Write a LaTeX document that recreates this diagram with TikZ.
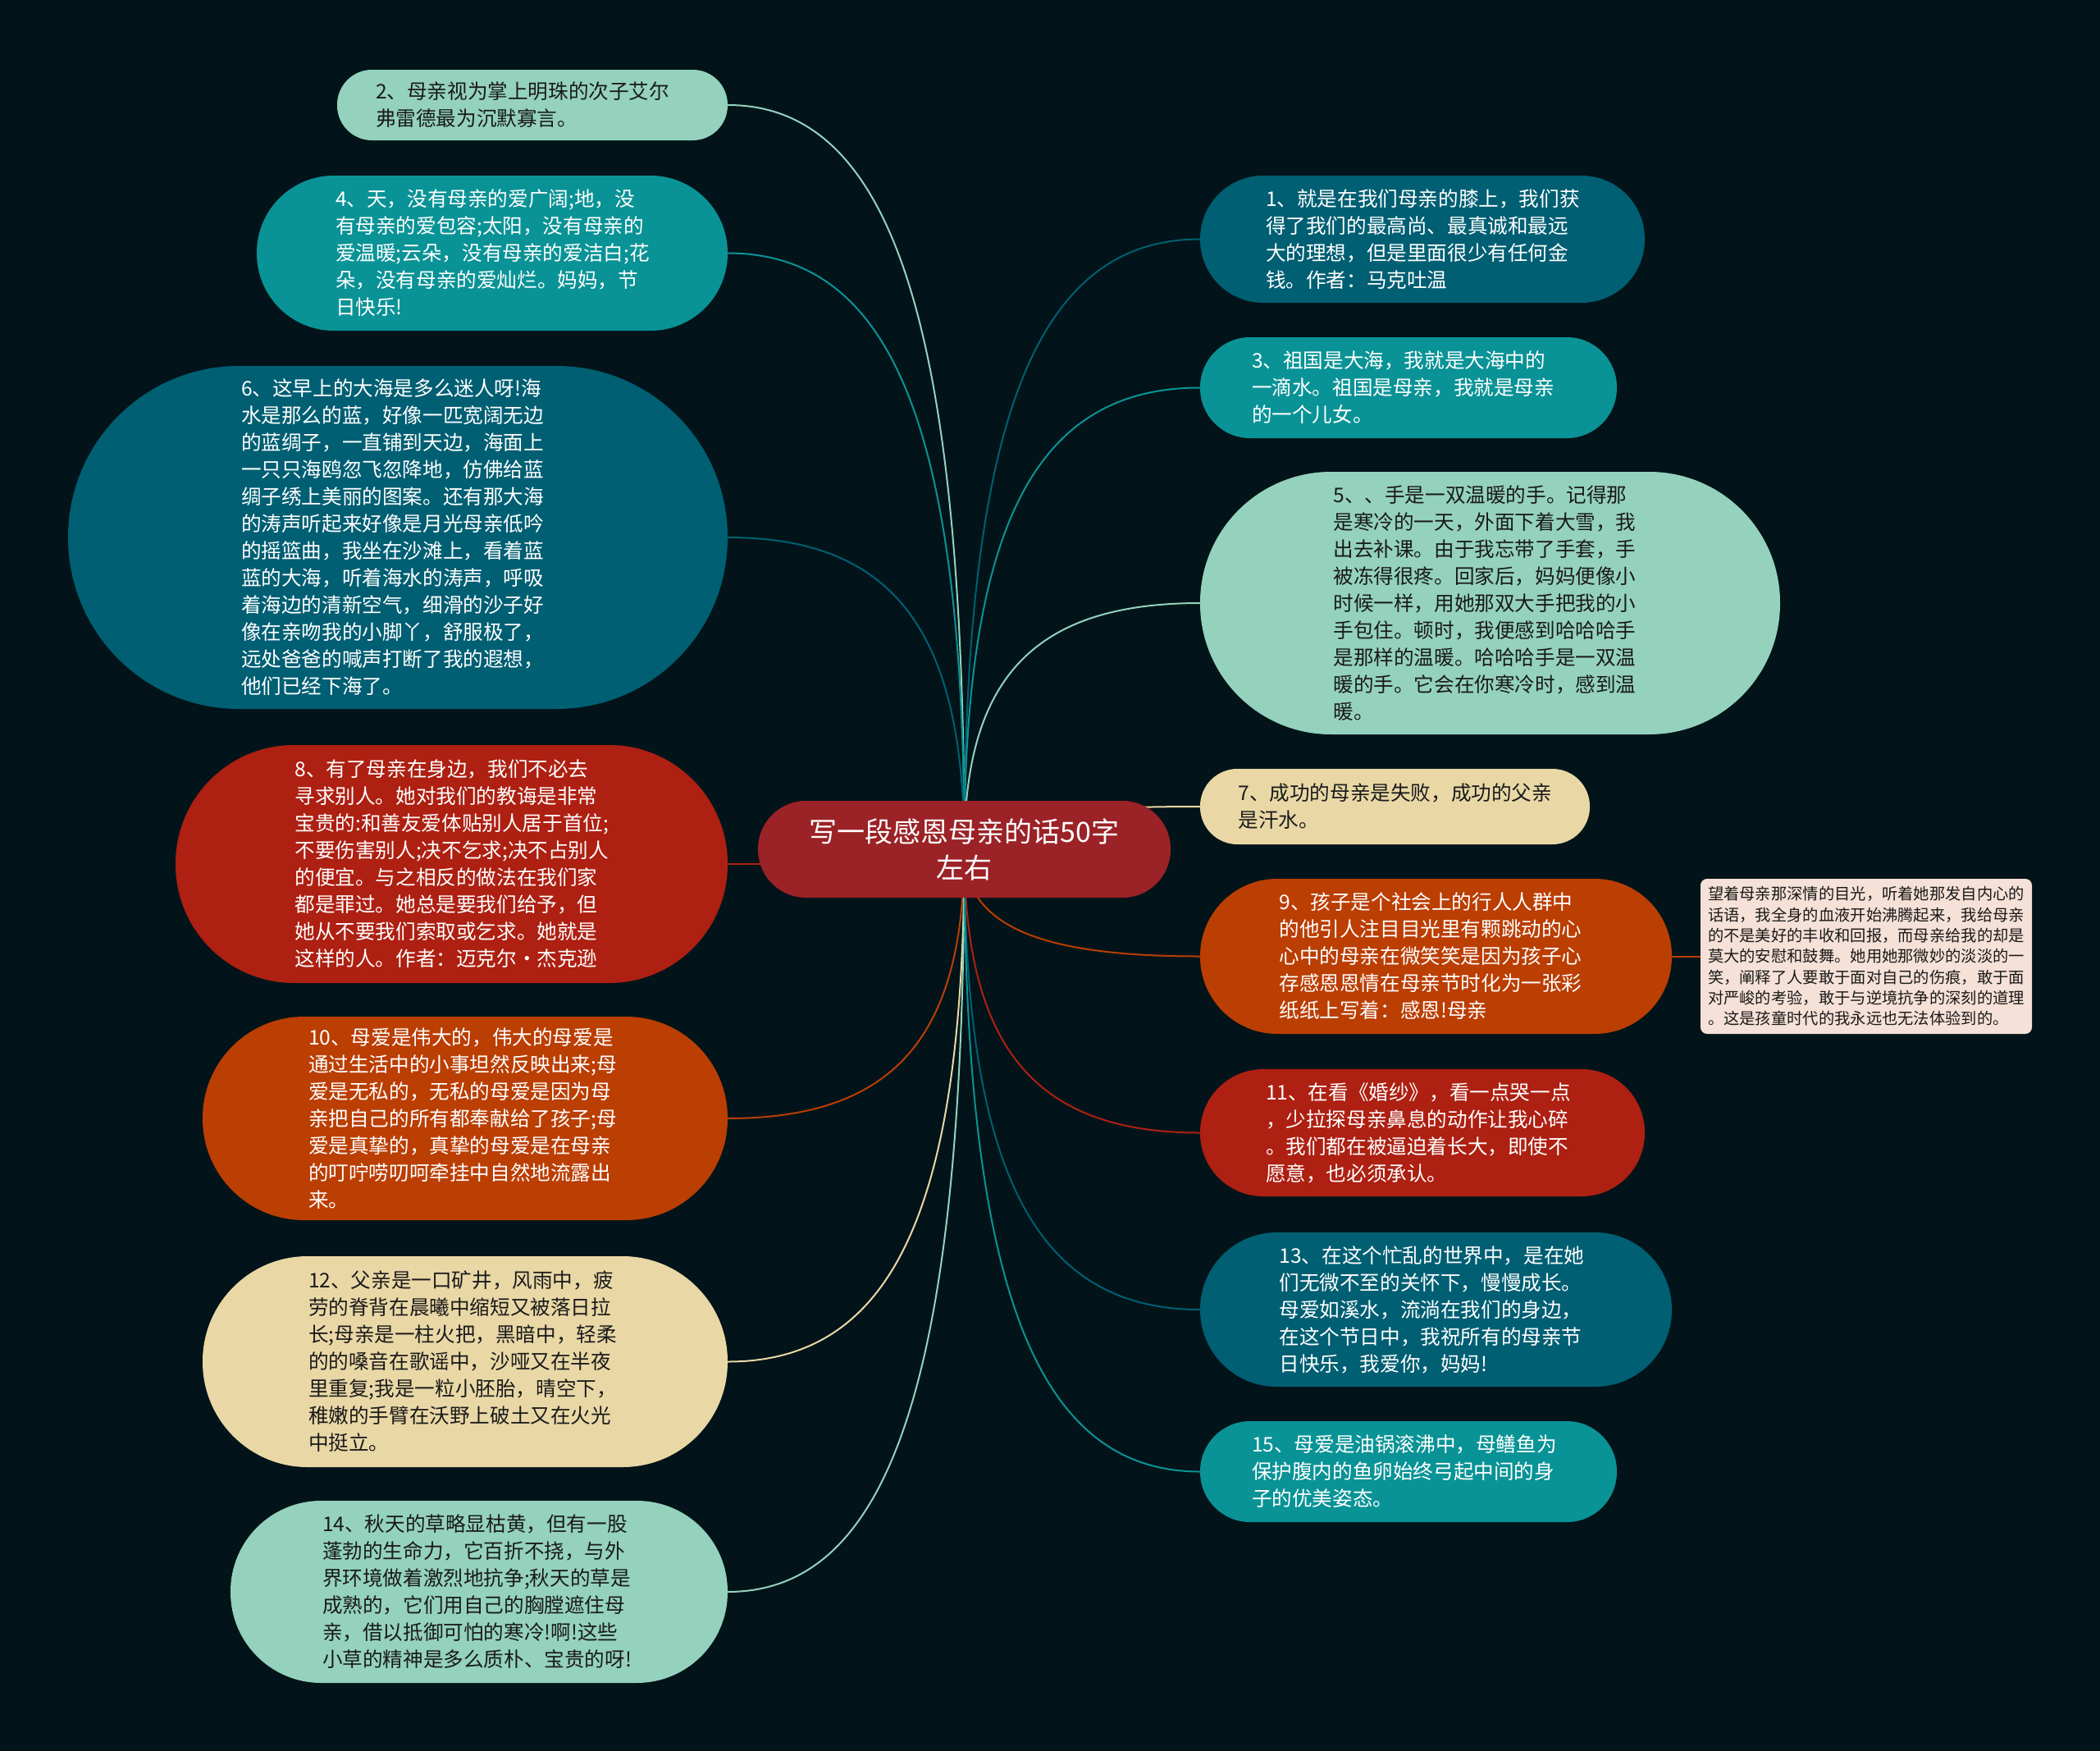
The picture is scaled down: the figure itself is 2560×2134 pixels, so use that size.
\documentclass[tikz,border=0pt]{standalone}
\usepackage{fontspec}
\setmainfont{Noto Sans CJK SC}
\usetikzlibrary{calc}
\definecolor{bgc}{HTML}{021419}
\definecolor{cA}{HTML}{005F73}
\definecolor{cB}{HTML}{0A9396}
\definecolor{cC}{HTML}{94D2BD}
\definecolor{cD}{HTML}{E9D8A6}
\definecolor{cE}{HTML}{BB3E03}
\definecolor{cF}{HTML}{AE2012}
\definecolor{cG}{HTML}{9B2226}
\definecolor{cN}{HTML}{F5E1D7}
\definecolor{dtext}{HTML}{1A1A1A}
\pgfdeclarelayer{bgl}
\pgfdeclarelayer{lines}
\pgfsetlayers{bgl,lines,main}
\tikzset{
  leaf/.style n args={4}{rectangle, fill=#1, text=#2, minimum width=#3, minimum height=#4,
     inner sep=0pt, text width=382pt, align=left,
     font={\fontsize{24.6pt}{33pt}\selectfont}},
  conn/.style={line width=2pt},
}
\newcommand\myconn[2]{\draw[conn,#1] (O) .. controls ($(O)!0.7!(O|-#2)$) and ($(O|-#2)!0.3!(#2)$) .. (#2);}
\begin{document}
\begin{tikzpicture}[x=1pt,y=-1pt]
\begin{pgfonlayer}{bgl}
\fill[bgc] (0,0) rectangle (2560,2134);
\end{pgfonlayer}
\useasboundingbox (0,0) rectangle (2560,2134);

% center
\node[rectangle, rounded corners=58.5pt, fill=cG, text=white, minimum width=503pt, minimum height=118pt,
  inner sep=0pt, align=center, font={\fontsize{34pt}{44pt}\selectfont}] (c) at (1175.5,1035)
  {写一段感恩母亲的话50字\\左右};
\coordinate (O) at (c.center);

% left
\node[leaf={cC}{dtext}{476pt}{86pt}, rounded corners=42.5pt] (n2) at (649,128)
 {2、母亲视为掌上明珠的次子艾尔\\弗雷德最为沉默寡言。};
\node[leaf={cB}{white}{574pt}{189pt}, rounded corners=94pt] (n4) at (600,308.5)
 {4、天，没有母亲的爱广阔;地，没\\有母亲的爱包容;太阳，没有母亲的\\爱温暖;云朵，没有母亲的爱洁白;花\\朵，没有母亲的爱灿烂。妈妈，节\\日快乐!};
\node[leaf={cA}{white}{804pt}{418pt}, rounded corners=208.5pt] (n6) at (485,655)
 {6、这早上的大海是多么迷人呀!海\\水是那么的蓝，好像一匹宽阔无边\\的蓝绸子，一直铺到天边，海面上\\一只只海鸥忽飞忽降地，仿佛给蓝\\绸子绣上美丽的图案。还有那大海\\的涛声听起来好像是月光母亲低吟\\的摇篮曲，我坐在沙滩上，看着蓝\\蓝的大海，听着海水的涛声，呼吸\\着海边的清新空气，细滑的沙子好\\像在亲吻我的小脚丫，舒服极了，\\远处爸爸的喊声打断了我的遐想，\\他们已经下海了。};
\node[leaf={cF}{white}{673pt}{290pt}, rounded corners=144.5pt] (n8) at (550.5,1053)
 {8、有了母亲在身边，我们不必去\\寻求别人。她对我们的教诲是非常\\宝贵的:和善友爱体贴别人居于首位;\\不要伤害别人;决不乞求;决不占别人\\的便宜。与之相反的做法在我们家\\都是罪过。她总是要我们给予，但\\她从不要我们索取或乞求。她就是\\这样的人。作者：迈克尔·杰克逊};
\node[leaf={cE}{white}{640pt}{248pt}, rounded corners=123.5pt] (n10) at (567,1363)
 {10、母爱是伟大的，伟大的母爱是\\通过生活中的小事坦然反映出来;母\\爱是无私的，无私的母爱是因为母\\亲把自己的所有都奉献给了孩子;母\\爱是真挚的，真挚的母爱是在母亲\\的叮咛唠叨呵牵挂中自然地流露出\\来。};
\node[leaf={cD}{dtext}{640pt}{257pt}, rounded corners=128pt] (n12) at (567,1659.5)
 {12、父亲是一口矿井，风雨中，疲\\劳的脊背在晨曦中缩短又被落日拉\\长;母亲是一柱火把，黑暗中，轻柔\\的的嗓音在歌谣中，沙哑又在半夜\\里重复;我是一粒小胚胎，晴空下，\\稚嫩的手臂在沃野上破土又在火光\\中挺立。};
\node[leaf={cC}{dtext}{606pt}{222pt}, rounded corners=110.5pt] (n14) at (584,1940)
 {14、秋天的草略显枯黄，但有一股\\蓬勃的生命力，它百折不挠，与外\\界环境做着激烈地抗争;秋天的草是\\成熟的，它们用自己的胸膛遮住母\\亲，借以抵御可怕的寒冷!啊!这些\\小草的精神是多么质朴、宝贵的呀!};

% right
\node[leaf={cA}{white}{542pt}{155pt}, rounded corners=77pt] (n1) at (1734,291.5)
 {1、就是在我们母亲的膝上，我们获\\得了我们的最高尚、最真诚和最远\\大的理想，但是里面很少有任何金\\钱。作者：马克吐温};
\node[leaf={cB}{white}{508pt}{123pt}, rounded corners=61pt] (n3) at (1717,472.5)
 {3、祖国是大海，我就是大海中的\\一滴水。祖国是母亲，我就是母亲\\的一个儿女。};
\node[leaf={cC}{dtext}{707pt}{320pt}, rounded corners=159.5pt] (n5) at (1816.5,735)
 {5、、手是一双温暖的手。记得那\\是寒冷的一天，外面下着大雪，我\\出去补课。由于我忘带了手套，手\\被冻得很疼。回家后，妈妈便像小\\时候一样，用她那双大手把我的小\\手包住。顿时，我便感到哈哈哈手\\是那样的温暖。哈哈哈手是一双温\\暖的手。它会在你寒冷时，感到温\\暖。};
\node[leaf={cD}{dtext}{475pt}{92pt}, rounded corners=45.5pt] (n7) at (1700.5,983)
 {7、成功的母亲是失败，成功的父亲\\是汗水。};
\node[leaf={cE}{white}{575pt}{189pt}, rounded corners=94pt] (n9) at (1750.5,1165.5)
 {9、孩子是个社会上的行人人群中\\的他引人注目目光里有颗跳动的心\\心中的母亲在微笑笑是因为孩子心\\存感恩恩情在母亲节时化为一张彩\\纸纸上写着：感恩!母亲};
\node[leaf={cF}{white}{542pt}{155pt}, rounded corners=77pt] (n11) at (1734,1380.5)
 {11、在看《婚纱》，看一点哭一点\\，少拉探母亲鼻息的动作让我心碎\\。我们都在被逼迫着长大，即使不\\愿意，也必须承认。};
\node[leaf={cA}{white}{575pt}{188pt}, rounded corners=93.5pt] (n13) at (1750.5,1596)
 {13、在这个忙乱的世界中，是在她\\们无微不至的关怀下，慢慢成长。\\母爱如溪水，流淌在我们的身边，\\在这个节日中，我祝所有的母亲节\\日快乐，我爱你，妈妈!};
\node[leaf={cB}{white}{508pt}{123pt}, rounded corners=61pt] (n15) at (1717,1793.5)
 {15、母爱是油锅滚沸中，母鳝鱼为\\保护腹内的鱼卵始终弓起中间的身\\子的优美姿态。};

% side note
\node[rectangle, rounded corners=8pt, fill=cN, text=dtext, minimum width=404pt, minimum height=189pt,
  inner sep=0pt, text width=386pt, align=left, font={\fontsize{19.3pt}{25.3pt}\selectfont}] (note) at (2275,1165.5)
 {望着母亲那深情的目光，听着她那发自内心的\\话语，我全身的血液开始沸腾起来，我给母亲\\的不是美好的丰收和回报，而母亲给我的却是\\莫大的安慰和鼓舞。她用她那微妙的淡淡的一\\笑，阐释了人要敢于面对自己的伤痕，敢于面\\对严峻的考验，敢于与逆境抗争的深刻的道理\\。这是孩童时代的我永远也无法体验到的。};

\begin{pgfonlayer}{lines}
\myconn{cC}{n2.east}
\myconn{cB}{n4.east}
\myconn{cA}{n6.east}
\myconn{cF}{n8.east}
\myconn{cE}{n10.east}
\myconn{cD}{n12.east}
\myconn{cC}{n14.east}
\myconn{cA}{n1.west}
\myconn{cB}{n3.west}
\myconn{cC}{n5.west}
\myconn{cD}{n7.west}
\myconn{cE}{n9.west}
\myconn{cF}{n11.west}
\myconn{cA}{n13.west}
\myconn{cB}{n15.west}
\draw[conn,cE] (n9.east) -- (note.west);
\end{pgfonlayer}
\end{tikzpicture}
\end{document}
